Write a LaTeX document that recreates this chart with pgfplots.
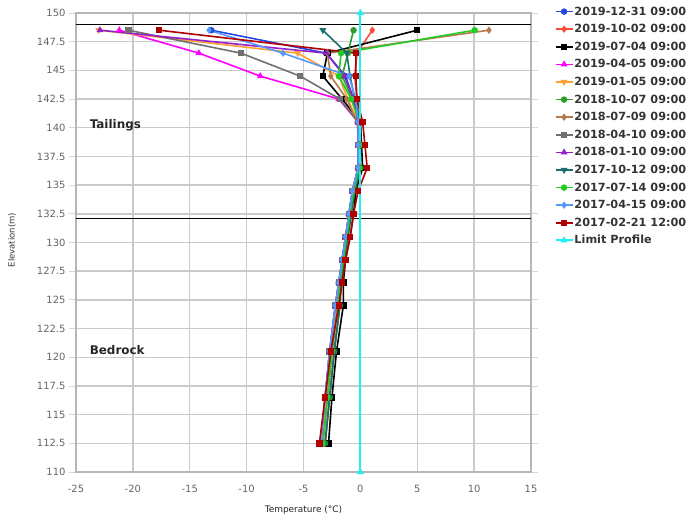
\documentclass[border=0pt]{standalone}
\usepackage{pgfplots}
\pgfplotsset{compat=1.18}
\usepackage{fontspec}
\setmainfont{DejaVu Sans}
\definecolor{gridc}{HTML}{CACACA}
\definecolor{tickc}{HTML}{666666}
\definecolor{ytickc}{HTML}{CCD6EB}
\definecolor{sBlue}{HTML}{2448DC}
\definecolor{sTomato}{HTML}{FF4A3A}
\definecolor{sBlack}{HTML}{000000}
\definecolor{sMagenta}{HTML}{FF00FF}
\definecolor{sOrange}{HTML}{FFA033}
\definecolor{sGreen}{HTML}{2E9E2E}
\definecolor{sBrown}{HTML}{B8784E}
\definecolor{sGray}{HTML}{707070}
\definecolor{sPurple}{HTML}{9420CC}
\definecolor{sTeal}{HTML}{1A6E6E}
\definecolor{sBright}{HTML}{22CC22}
\definecolor{sLight}{HTML}{5599FF}
\definecolor{sDark}{HTML}{B00000}
\definecolor{sCyan}{HTML}{20F0F0}
\begin{document}
\begin{tikzpicture}[x=1bp,y=1bp]
\useasboundingbox (0,0) rectangle (694,520);
\begin{axis}[
  at={(76bp,48bp)}, anchor=south west,
  scale only axis, width=455bp, height=459bp,
  xmin=-25, xmax=15, ymin=110, ymax=150,
  xtick={-25,-20,-15,-10,-5,0,5,10,15},
  ytick={110,112.5,115,117.5,120,122.5,125,127.5,130,132.5,135,137.5,140,142.5,145,147.5,150},
  grid=major, major grid style={draw=gridc, line width=1.4bp},
  axis line style={draw=gridc!90!black, line width=1.6bp},
  tick align=outside,
  xtick style={draw=none},
  ytick style={draw=ytickc, line width=0.8bp},
  major tick length=7bp,
  /pgf/number format/assume math mode=true,
  ticklabel style={font=\fontsize{10}{12}\selectfont, text=tickc},
  xticklabel style={yshift=-3bp},
  xlabel={Temperature (°C)},
  xlabel style={at={(axis description cs:0.5,-0.083)}, anchor=center, font=\fontsize{9}{11}\selectfont, text=black!85},
  ylabel={Elevation(m)},
  ylabel style={at={(axis description cs:-0.1407,0.505)}, anchor=center, rotate=0, font=\fontsize{8.5}{10}\selectfont, text=black!80},
  clip=false,
  legend style={at={(axis description cs:1.045,1.022)}, anchor=north west, draw=none, fill=none,
    font=\bfseries\fontsize{11.3}{13}\selectfont, text=black!80,
    nodes={inner sep=1bp, text height=9bp, text depth=2bp}, row sep=4.6bp},
  legend cell align=left,
  every axis plot/.append style={line width=1.6bp, mark size=2.4bp},
]
\addplot[forget plot, black, line width=1bp, mark=none] coordinates {(-25,149) (15,149)};
\addplot[forget plot, black, line width=1bp, mark=none] coordinates {(-25,132.1) (15,132.1)};

% 2019-12-31
\addplot[sBlue, mark=*] coordinates {(-13.1,148.5) (-3.0,146.5) (-1.3,144.5) (-0.6,142.5) (-0.2,140.5) (-0.2,138.5) (-0.2,136.5) (-0.7,134.5) (-1.0,132.5) (-1.3,130.5) (-1.6,128.5) (-1.9,126.5) (-2.2,124.5) (-2.7,120.5) (-3.1,116.5) (-3.5,112.5)};
\addlegendentry{2019-12-31 09:00}
% 2019-10-02
\addplot[sTomato, mark=diamond*] coordinates {(1.05,148.5) (-0.3,146.5) (-0.5,144.5) (-0.3,142.5) (0.0,140.5) (0.0,138.5) (0.0,136.5) (-0.5,134.5) (-0.8,132.5) (-1.1,130.5) (-1.4,128.5) (-1.7,126.5) (-1.8,124.5) (-2.3,120.5) (-2.7,116.5) (-3.1,112.5)};
\addlegendentry{2019-10-02 09:00}
% 2019-07-04
\addplot[sBlack, mark=square*] coordinates {(5.0,148.5) (-2.9,146.5) (-3.3,144.5) (-1.6,142.5) (0.0,140.5) (0.1,138.5) (0.2,136.5) (-0.4,134.5) (-0.6,132.5) (-0.9,130.5) (-1.3,128.5) (-1.5,126.5) (-1.5,124.5) (-2.1,120.5) (-2.5,116.5) (-2.8,112.5)};
\addlegendentry{2019-07-04 09:00}
% 2019-04-05
\addplot[sMagenta, mark=triangle*] coordinates {(-21.2,148.5) (-14.2,146.5) (-8.8,144.5) (-1.9,142.5) (-0.2,140.5) (-0.1,138.5) (-0.1,136.5) (-0.6,134.5) (-0.9,132.5) (-1.2,130.5) (-1.5,128.5) (-1.8,126.5) (-2.0,124.5) (-2.5,120.5) (-2.9,116.5) (-3.3,112.5)};
\addlegendentry{2019-04-05 09:00}
% 2019-01-05
\addplot[sOrange, mark=triangle*, mark options={rotate=180}] coordinates {(-23.0,148.5) (-5.5,146.5) (-1.9,144.5) (-1.1,142.5) (-0.2,140.5) (-0.2,138.5) (-0.2,136.5) (-0.7,134.5) (-1.0,132.5) (-1.3,130.5) (-1.6,128.5) (-1.9,126.5) (-2.2,124.5) (-2.7,120.5) (-3.1,116.5) (-3.5,112.5)};
\addlegendentry{2019-01-05 09:00}
% 2018-10-07
\addplot[sGreen, mark=*] coordinates {(-0.6,148.5) (-1.1,146.5) (-1.6,144.5) (-0.7,142.5) (0.0,140.5) (0.0,138.5) (0.0,136.5) (-0.5,134.5) (-0.8,132.5) (-1.1,130.5) (-1.4,128.5) (-1.7,126.5) (-1.8,124.5) (-2.3,120.5) (-2.7,116.5) (-3.1,112.5)};
\addlegendentry{2018-10-07 09:00}
% 2018-07-09
\addplot[sBrown, mark=diamond*] coordinates {(11.3,148.5) (-2.9,146.5) (-2.6,144.5) (-1.2,142.5) (-0.3,140.5) (-0.1,138.5) (-0.1,136.5) (-0.6,134.5) (-0.9,132.5) (-1.2,130.5) (-1.5,128.5) (-1.8,126.5) (-2.0,124.5) (-2.5,120.5) (-2.9,116.5) (-3.3,112.5)};
\addlegendentry{2018-07-09 09:00}
% 2018-04-10
\addplot[sGray, mark=square*] coordinates {(-20.4,148.5) (-10.5,146.5) (-5.3,144.5) (-1.8,142.5) (-0.2,140.5) (-0.2,138.5) (-0.2,136.5) (-0.7,134.5) (-1.0,132.5) (-1.3,130.5) (-1.6,128.5) (-1.9,126.5) (-2.2,124.5) (-2.7,120.5) (-3.1,116.5) (-3.5,112.5)};
\addlegendentry{2018-04-10 09:00}
% 2018-01-10
\addplot[sPurple, mark=triangle*] coordinates {(-22.9,148.5) (-3.0,146.5) (-1.4,144.5) (-0.6,142.5) (-0.2,140.5) (-0.2,138.5) (-0.2,136.5) (-0.7,134.5) (-1.0,132.5) (-1.3,130.5) (-1.6,128.5) (-1.9,126.5) (-2.2,124.5) (-2.7,120.5) (-3.1,116.5) (-3.5,112.5)};
\addlegendentry{2018-01-10 09:00}
% 2017-10-12
\addplot[sTeal, mark=triangle*, mark options={rotate=180}] coordinates {(-3.3,148.5) (-1.2,146.5) (-0.9,144.5) (-0.5,142.5) (0.0,140.5) (0.0,138.5) (0.0,136.5) (-0.5,134.5) (-0.8,132.5) (-1.1,130.5) (-1.4,128.5) (-1.7,126.5) (-1.8,124.5) (-2.3,120.5) (-2.7,116.5) (-3.1,112.5)};
\addlegendentry{2017-10-12 09:00}
% 2017-07-14
\addplot[sBright, mark=*] coordinates {(10.05,148.5) (-1.7,146.5) (-1.9,144.5) (-0.8,142.5) (-0.1,140.5) (-0.1,138.5) (-0.1,136.5) (-0.6,134.5) (-0.9,132.5) (-1.2,130.5) (-1.5,128.5) (-1.8,126.5) (-2.0,124.5) (-2.5,120.5) (-2.9,116.5) (-3.3,112.5)};
\addlegendentry{2017-07-14 09:00}
% 2017-04-15
\addplot[sLight, mark=diamond*] coordinates {(-13.3,148.5) (-6.8,146.5) (-1.0,144.5) (-0.4,142.5) (-0.2,140.5) (-0.2,138.5) (-0.2,136.5) (-0.7,134.5) (-1.0,132.5) (-1.3,130.5) (-1.6,128.5) (-1.9,126.5) (-2.2,124.5) (-2.7,120.5) (-3.1,116.5) (-3.5,112.5)};
\addlegendentry{2017-04-15 09:00}
% 2017-02-21
\addplot[sDark, mark=square*] coordinates {(-17.7,148.5) (-0.4,146.5) (-0.4,144.5) (-0.3,142.5) (0.2,140.5) (0.4,138.5) (0.6,136.5) (-0.2,134.5) (-0.6,132.5) (-0.9,130.5) (-1.3,128.5) (-1.6,126.5) (-1.9,124.5) (-2.6,120.5) (-3.1,116.5) (-3.6,112.5)};
\addlegendentry{2017-02-21 12:00}
% Limit profile
\addplot[sCyan, mark=triangle*, line width=1.8bp] coordinates {(0,150) (0,110)};
\addlegendentry{Limit Profile}

\node[anchor=west, font=\bfseries\fontsize{12}{14}\selectfont, text=black!85] at (axis cs:-24.1,140.2) {Tailings};
\node[anchor=west, font=\bfseries\fontsize{12}{14}\selectfont, text=black!85] at (axis cs:-24.1,120.6) {Bedrock};
\end{axis}
\end{tikzpicture}
\end{document}
